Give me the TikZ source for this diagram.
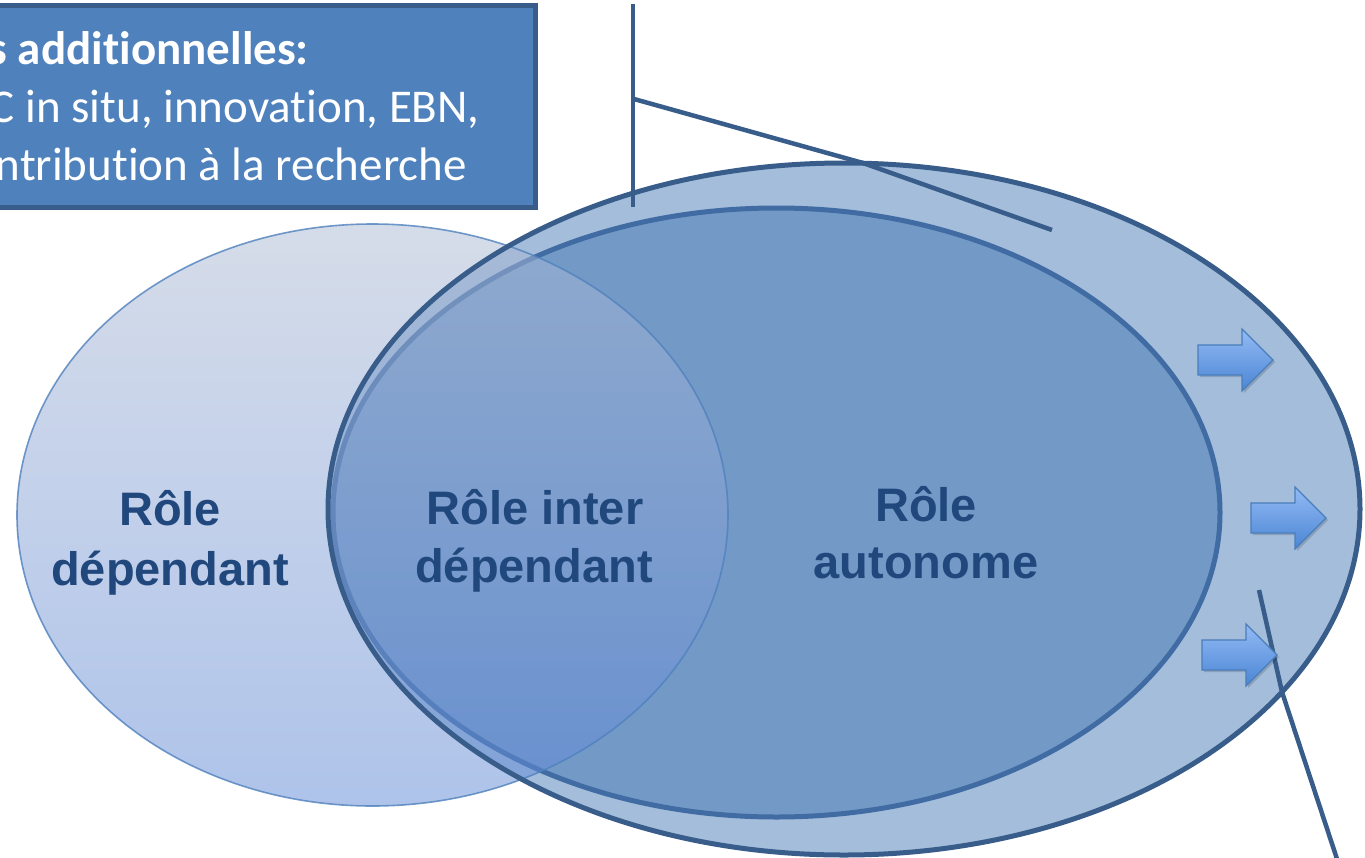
\documentclass[tikz,border=0pt]{standalone}
\usepackage{fontspec}
\newfontfamily\labfont{Liberation Sans}
\newfontfamily\boxfont{Carlito}[Ligatures=NoCommon,RawFeature={-liga;-clig;-calt;-dlig}]
\definecolor{outerfill}{RGB}{163,189,219}
\definecolor{outerline}{RGB}{56,93,138}
\definecolor{innerfill}{RGB}{115,153,199}
\definecolor{innerline}{RGB}{64,108,163}
\definecolor{lefttop}{RGB}{173,187,213}
\definecolor{leftbot}{RGB}{95,137,215}
\definecolor{leftline}{RGB}{79,129,189}
\definecolor{boxfill}{RGB}{79,129,189}
\definecolor{labcol}{RGB}{33,72,125}
\definecolor{arrtop}{RGB}{148,186,245}
\definecolor{arrbot}{RGB}{74,134,212}
\definecolor{arrline}{RGB}{74,126,187}
\tikzset{
  lab/.style={font=\labfont\bfseries\fontsize{47}{57}\selectfont, text=labcol, inner sep=0pt, anchor=base},
  boxtxt/.style={font=\boxfont\fontsize{47}{57}\selectfont, text=white, inner sep=0pt, anchor=base east},
  callout/.style={draw=outerline, line width=4.5pt},
  blockarr/.pic={
    \fill[black, opacity=0.15] (2,-13) -- (46,-13) -- (46,-29) -- (77,2) -- (46,33) -- (46,17) -- (2,17) -- cycle;
    \shade[top color=arrtop, bottom color=arrbot, draw=arrline, line width=1.2pt]
      (0,-15) -- (44,-15) -- (44,-31) -- (75,0) -- (44,31) -- (44,15) -- (0,15) -- cycle;
  }
}
\begin{document}
\begin{tikzpicture}[x=1pt,y=-1pt]
\useasboundingbox (0,0) rectangle (1365,857);
\clip (0,0) rectangle (1365,857);
\fill[white] (0,0) rectangle (1365,857);
% ellipses
\fill[outerfill] (844,509) ellipse [x radius=516, y radius=346];
\draw[innerline, fill=innerfill, line width=5pt] (776.5,512.5) ellipse [x radius=443.5, y radius=304.5];
\shade[top color=lefttop, bottom color=leftbot, opacity=0.5] (372.5,515) ellipse [x radius=355.5, y radius=291];
\draw[leftline, line width=1.6pt, opacity=0.8] (372.5,515) ellipse [x radius=355.5, y radius=291];
\draw[outerline, line width=5pt] (844,509) ellipse [x radius=516, y radius=346];
% box
\draw[draw=outerline, fill=boxfill, line width=5pt] (-20,5) rectangle (535,207);
\node[boxtxt] (b1) at (309,64) {\bfseries s addit\kern0pt ionnelles:};
\node[boxtxt] (b2) at (480,122) {C in situ, innovat\kern0pt ion, EBN,};
\node[boxtxt] (b3) at (467,180) {ntribut\kern0pt ion à la recherche};
% callout lines
\coordinate (c1) at (633,4);
\coordinate (c2) at (633,207);
\coordinate (d1) at (634,99);
\coordinate (d2) at (863,163);
\coordinate (d3) at (1052,230);
\coordinate (e1) at (1259,590);
\coordinate (e2) at (1282,692);
\coordinate (e3) at (1338,862);
\draw[callout] (c1) -- (c2);
\draw[callout] (d1) -- (d2) -- (d3);
\draw[callout] (e1) -- (e2) -- (e3);
% arrows
\pic at (1198,360) {blockarr};
\pic at (1251,518) {blockarr};
\pic at (1202,655) {blockarr};
% labels
\node[lab] (dep1) at (170,525) {Rôle};
\node[lab] (dep2) at (170,585) {dépendant};
\node[lab] (int1) at (535,524) {Rôle inter};
\node[lab] (int2) at (534,582) {dépendant};
\node[lab] (aut1) at (926,521) {Rôle};
\node[lab] (aut2) at (926,578) {autonome};
\end{tikzpicture}
\end{document}
